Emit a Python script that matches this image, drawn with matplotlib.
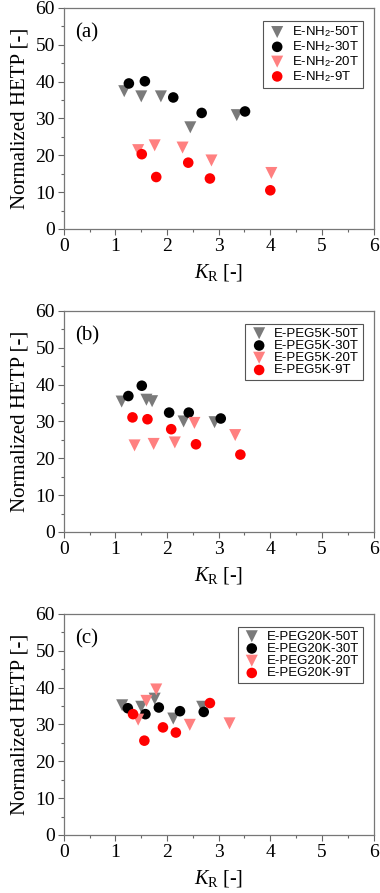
import matplotlib
matplotlib.use("Agg")
import matplotlib.pyplot as plt
from matplotlib.ticker import MultipleLocator

plt.rcParams['font.family'] = ['Liberation Serif', 'DejaVu Serif']
plt.rcParams['mathtext.fontset'] = 'custom'
plt.rcParams['mathtext.rm'] = 'Liberation Serif'
plt.rcParams['mathtext.it'] = 'Liberation Serif:italic'
plt.rcParams['mathtext.sf'] = 'Liberation Sans'

# panel (a): E-NH2
a_50_x = [1.17, 1.50, 1.88, 2.45, 3.35]
a_50_y = [37.4, 36.0, 36.0, 27.6, 30.9]
a_30_x = [1.26, 1.57, 2.12, 2.67, 3.51]
a_30_y = [39.5, 40.1, 35.7, 31.5, 31.9]
a_20_x = [1.44, 1.76, 2.30, 2.86, 4.02]
a_20_y = [21.4, 22.7, 22.1, 18.6, 15.2]
a_9_x = [1.51, 1.79, 2.41, 2.83, 4.00]
a_9_y = [20.3, 14.1, 18.0, 13.7, 10.5]

# panel (b): E-PEG5K
b_50_x = [1.12, 1.60, 1.71, 2.32, 2.92]
b_50_y = [35.4, 35.9, 35.5, 30.0, 29.8]
b_30_x = [1.25, 1.51, 2.04, 2.42, 3.04]
b_30_y = [36.9, 39.7, 32.4, 32.4, 30.8]
b_20_x = [1.37, 1.74, 2.15, 2.53, 3.32]
b_20_y = [23.5, 23.9, 24.3, 29.6, 26.3]
b_9_x = [1.33, 1.62, 2.08, 2.56, 3.42]
b_9_y = [31.1, 30.6, 27.9, 23.8, 21.0]

# panel (c): E-PEG20K
c_50_x = [1.13, 1.50, 1.76, 2.12, 2.68]
c_50_y = [35.2, 34.8, 37.0, 31.6, 34.8]
c_30_x = [1.24, 1.58, 1.84, 2.25, 2.71]
c_30_y = [34.4, 32.8, 34.6, 33.6, 33.4]
c_20_x = [1.44, 1.60, 1.79, 2.44, 3.21]
c_20_y = [31.3, 36.4, 39.5, 29.9, 30.3]
c_9_x = [1.34, 1.56, 1.92, 2.17, 2.83]
c_9_y = [32.8, 25.6, 29.2, 27.8, 35.8]

panels = [
    ('(a)', 'E-NH$_\\mathsf{2}$', [(a_50_x, a_50_y), (a_30_x, a_30_y), (a_20_x, a_20_y), (a_9_x, a_9_y)]),
    ('(b)', 'E-PEG5K', [(b_50_x, b_50_y), (b_30_x, b_30_y), (b_20_x, b_20_y), (b_9_x, b_9_y)]),
    ('(c)', 'E-PEG20K', [(c_50_x, c_50_y), (c_30_x, c_30_y), (c_20_x, c_20_y), (c_9_x, c_9_y)]),
]
suffixes = ['-50T', '-30T', '-20T', '-9T']
markers = ['v', 'o', 'v', 'o']
sizes = [75, 58, 75, 58]
colors = ['#7a7a7a', '#000000', '#ff8080', '#ff0000']

fig = plt.figure(figsize=(3.8, 8.93), dpi=100)
bottoms = [0.7436, 0.4043, 0.0650]

for (tag, name, series), bottom in zip(panels, bottoms):
    ax = fig.add_axes([0.168, bottom, 0.815, 0.2475])
    for (xs, ys), suf, m, s, c in zip(series, suffixes, markers, sizes, colors):
        ax.scatter(xs, ys, marker=m, s=s, color=c, edgecolors='none',
                   label=name + suf)
    ax.set_xlim(0, 6)
    ax.set_ylim(0, 60)
    ax.xaxis.set_major_locator(MultipleLocator(1))
    ax.xaxis.set_minor_locator(MultipleLocator(0.5))
    ax.yaxis.set_major_locator(MultipleLocator(10))
    ax.yaxis.set_minor_locator(MultipleLocator(5))
    ax.tick_params(which='both', direction='out', top=False, right=False,
                   labelsize=14, color='#666666', width=0.8, pad=2.5)
    ax.tick_params(which='major', length=4)
    ax.tick_params(which='minor', length=2.5)
    for sp in ax.spines.values():
        sp.set_color('#777777')
        sp.set_linewidth(0.9)
    ax.set_xlabel('$\\mathit{K}_{\\mathrm{R}}$ [-]', fontsize=14.5, labelpad=5)
    ax.set_ylabel('Normalized HETP [-]', fontsize=15, labelpad=4)
    ax.text(0.035, 0.93, tag, transform=ax.transAxes, fontsize=15, va='top')
    leg = ax.legend(loc='upper right', bbox_to_anchor=(0.975, 0.955),
                    prop={'family': 'Liberation Sans', 'size': 9.5},
                    frameon=True, fancybox=False, edgecolor='#555555',
                    labelspacing=0.0, handletextpad=0.4, borderpad=0.3,
                    handlelength=1.5, borderaxespad=0.2, framealpha=1)
    leg.get_frame().set_linewidth(0.8)

fig.savefig('out.png', dpi=100)
